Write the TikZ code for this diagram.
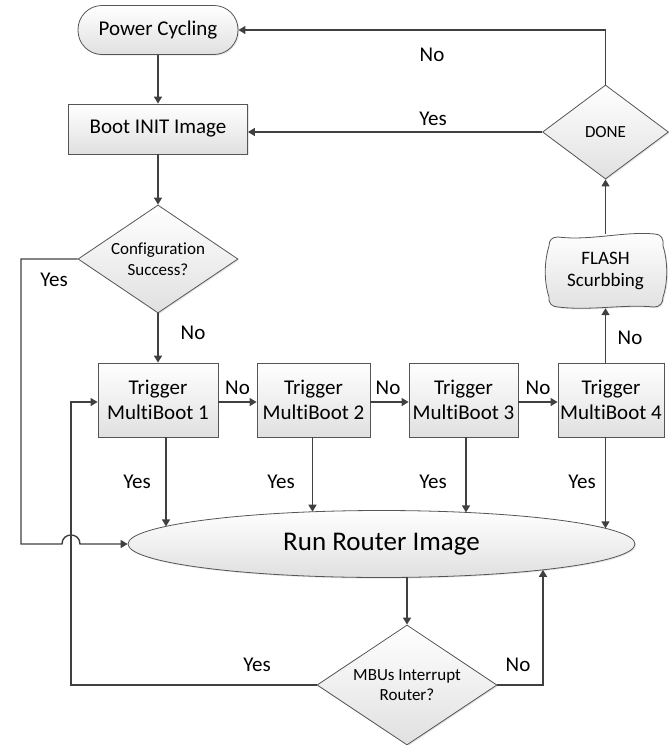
\documentclass[tikz,border=0pt]{standalone}
\usepackage{fontspec}
\setmainfont[Ligatures={NoCommon,NoRare,NoDiscretionary}]{Carlito}
\usetikzlibrary{arrows.meta,shapes.geometric,shadows,calc}
\definecolor{linec}{HTML}{404040}
\definecolor{shapec}{HTML}{555555}
\definecolor{fillb}{HTML}{E0E0E0}
\begin{document}
\begin{tikzpicture}[x=1pt,y=-1pt,
  line/.style={draw=linec, line width=1.4pt},
  arr/.style={line, -{Triangle[length=7pt,width=8pt]}},
  shp/.style={draw=shapec, line width=0.8pt, top color=white, bottom color=fillb,
    drop shadow={shadow xshift=1.2pt,shadow yshift=-1.2pt,opacity=0.2}},
  box/.style={shp, rectangle, minimum height=74pt, align=center,
    font=\fontsize{21}{25}\selectfont, inner sep=0pt},
  dia/.style={shp, diamond, inner sep=0pt},
  lbl/.style={font=\fontsize{21}{25}\selectfont, inner sep=0pt},
  dtxt/.style={font=\fontsize{17}{20.5}\selectfont, align=center, inner sep=0pt},
]
\useasboundingbox (0,0) rectangle (669,745);

% shapes
\node[shp, rectangle, rounded corners=24pt, minimum width=160pt, minimum height=49pt,
  inner sep=0pt, font=\fontsize{21}{25}\selectfont] (pc) at (158,30) {Power Cycling};
\node[box, minimum width=179pt, minimum height=50pt] (boot) at (158,129) {Boot INIT Image};
\node[dia, minimum width=160pt, minimum height=108pt] (cfg) at (158,259) {};
\node[dtxt] (cfgt) at (cfg) {Configuration\\Success?};

\node[box, minimum width=120pt] (t1) at (158,400) {Trigger\\MultiBoot 1};
\node[box, minimum width=113pt] (t2) at (313.5,400) {Trigger\\MultiBoot 2};
\node[box, minimum width=109pt] (t3) at (463.5,400) {Trigger\\MultiBoot 3};
\node[box, minimum width=106pt] (t4) at (611,400) {Trigger\\MultiBoot 4};

\draw[shp] (558,237) .. controls (590,241) and (625,231) .. (655,234)
  .. controls (661,234) and (664,239) .. (663,246)
  .. controls (668,262) and (668,282) .. (663,297)
  .. controls (663,303) and (660,307) .. (654,307)
  .. controls (625,304) and (590,311) .. (558,307)
  .. controls (552,307) and (548,303) .. (549,297)
  .. controls (544,282) and (544,262) .. (549,246)
  .. controls (549,240) and (552,237) .. (558,237) -- cycle;
\node[inner sep=0pt, minimum width=116pt, minimum height=74pt, align=center,
  font=\fontsize{19}{22}\selectfont] (flash) at (605.5,271) {FLASH\\Scurbbing};

\node[dia, minimum width=126pt, minimum height=94pt] (done) at (605.5,132) {};
\node[dtxt] (donet) at (done) {DONE};

\node[shp, ellipse, minimum width=507pt, minimum height=67pt, inner sep=0pt,
  font=\fontsize{27}{32}\selectfont] (ell) at (381.5,544) {Run Router Image};

\node[dia, minimum width=180pt, minimum height=120pt] (mbu) at (407,685) {};
\node[dtxt] (mbut) at (mbu) {MBUs Interrupt\\Router?};

% coordinates
\coordinate (lx) at (21,544);
\coordinate (hopL) at (62,544);
\coordinate (hopR) at (80,544);
\coordinate (lp) at (71,402);
\coordinate (e1) at (166,526.4);
\coordinate (e2) at (312.5,511.7);
\coordinate (e3) at (466,512.4);
\coordinate (e4) at (605.5,528.3);
\coordinate (eb) at (407,577.3);
\coordinate (rp) at (543,569.8);

% connectors
\draw[arr] (pc.south) -- (boot.north);
\draw[arr] (boot.south) -- (cfg.north);
\draw[arr] (cfg.south) -- (t1.north);
\draw[arr] (cfg.west) -| (lx) -- (hopL) .. controls (62,532) and (80,532) .. (hopR) -- (ell.west);
\draw[arr] ([yshift=-2pt]t1.east) -- ([yshift=-2pt]t2.west);
\draw[arr] ([yshift=-2pt]t2.east) -- ([yshift=-2pt]t3.west);
\draw[arr] ([yshift=-2pt]t3.east) -- ([yshift=-2pt]t4.west);
\draw[arr] (flash.south |- t4.north) -- (flash.south);
\draw[arr] (flash.north) -- (done.south);
\draw[arr] (done.west) -- (done.west -| boot.east);
\draw[arr] (done.north) |- (pc.east);
\draw[arr] (e1 |- t1.south) -- (e1);
\draw[arr] (e2 |- t2.south) -- (e2);
\draw[arr] (e3 |- t3.south) -- (e3);
\draw[arr] (e4 |- t4.south) -- (e4);
\draw[arr] (eb) -- (mbu.north);
\draw[arr] (mbu.west) -| (lp) -- (lp -| t1.west);
\draw[arr] (mbu.east) -| (rp);

% labels
\node[lbl] at (432,55) {No};
\node[lbl] at (433,119) {Yes};
\node[lbl] at (54,280) {Yes};
\node[lbl] at (193,333) {No};
\node[lbl] at (237.5,388) {No};
\node[lbl] at (388,388) {No};
\node[lbl] at (538,388) {No};
\node[lbl] at (630,338) {No};
\node[lbl] at (137,482) {Yes};
\node[lbl] at (281,482) {Yes};
\node[lbl] at (433,482) {Yes};
\node[lbl] at (582,482) {Yes};
\node[lbl] at (257,665) {Yes};
\node[lbl] at (518,665) {No};
\end{tikzpicture}
\end{document}
